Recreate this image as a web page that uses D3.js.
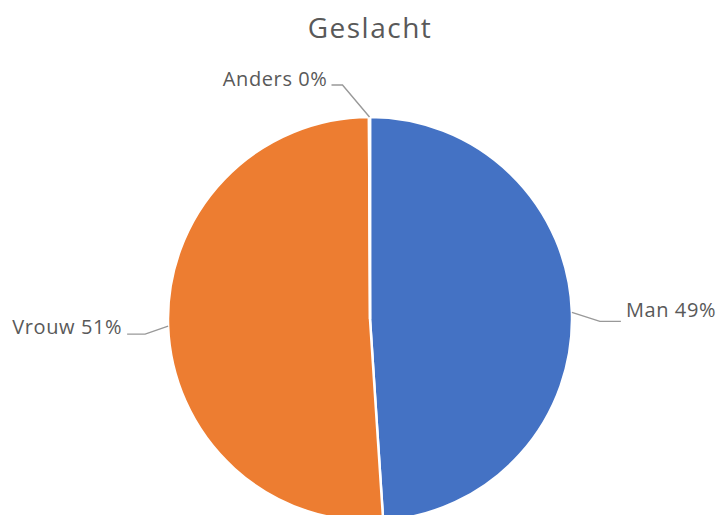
<!DOCTYPE html>
<html><head><meta charset="utf-8">
<script src="https://cdn.jsdelivr.net/npm/d3@7"></script>
<style>body{margin:0;background:#fff;overflow:hidden}svg{display:block}</style>
</head><body>
<script>
const categories = ["Man", "Vrouw", "Anders"];
const values = [49, 51, 0.08];
const labels = ["49%", "51%", "0%"];
const colors = ["#4472C4", "#ED7D31", "#A5A5A5"];

const W = 722, H = 515;
const cx = 370, cy = 319, R = 202;
const font = "'Open Sans', 'Noto Sans', sans-serif";
const svg = d3.select("body").append("svg").attr("width", W).attr("height", H);

svg.append("text").attr("x", cx).attr("y", 38).attr("text-anchor", "middle")
  .attr("font-family", font).attr("font-size", 28).attr("letter-spacing", 1.5)
  .attr("fill", "#595959").text("Geslacht");

const data = categories.map((c, i) => ({cat: c, value: values[i], label: labels[i], color: colors[i]}));
const pie = d3.pie().sort(null).value(d => d.value);
const arcs = pie(data);
const arc = d3.arc().innerRadius(0).outerRadius(R);

const g = svg.append("g").attr("transform", `translate(${cx},${cy})`);
g.selectAll("path").data(arcs).join("path")
  .attr("d", arc).attr("fill", d => d.data.color)
  .attr("stroke", "#fff").attr("stroke-width", 2.5);

const fs = 20;
function mid(d){ return (d.startAngle + d.endAngle) / 2; }
function pt(a, r){ return [Math.sin(a) * r, -Math.cos(a) * r]; }

const labelSpec = [
  {dx: 49, dy: 9, bend: 21, anchor: "start", gap: 5, base: -4},
  {dx: -41, dy: 8, bend: -18, anchor: "end", gap: -5, base: 0},
  {dx: -38, dy: -32, bend: -11, anchor: "end", gap: -4, base: 1}
];
arcs.forEach((d, i) => {
  const a = mid(d);
  const p0 = pt(a, R);
  const s = labelSpec[i];
  const p2 = [p0[0] + s.dx, p0[1] + s.dy];
  const p1 = [p2[0] - s.bend, p2[1]];
  g.append("polyline")
    .attr("points", [p0, p1, p2].map(p => p.join(",")).join(" "))
    .attr("fill", "none").attr("stroke", "#999999").attr("stroke-width", 1.4);
  g.append("text")
    .attr("x", p2[0] + s.gap)
    .attr("y", p2[1] + s.base)
    .attr("text-anchor", s.anchor)
    .attr("font-family", font).attr("font-size", fs).attr("letter-spacing", 0.6)
    .attr("fill", "#595959")
    .text(d.data.cat + " " + d.data.label);
});
</script>
</body></html>
